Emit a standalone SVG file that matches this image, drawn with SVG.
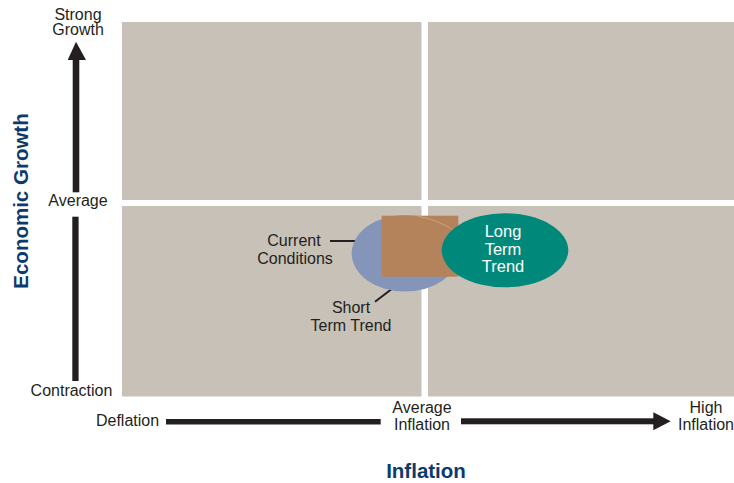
<svg xmlns="http://www.w3.org/2000/svg" width="734" height="483" viewBox="0 0 734 483">
  <style>
    .quad { fill: #c8c1b7; }
    .lbl { font-family: "Liberation Sans", Arial, sans-serif; font-size: 16px; fill: #231f20; text-anchor: middle; }
    .wlbl { font-family: "Liberation Sans", Arial, sans-serif; font-size: 16.5px; fill: #ffffff; text-anchor: middle; }
    .title { font-family: "Liberation Sans", Arial, sans-serif; font-size: 20.5px; font-weight: bold; fill: #0b3a6e; text-anchor: middle; }
    .bar { fill: #231f20; }
    .leader { stroke: #231f20; stroke-width: 2; fill: none; }
  </style>
  <rect width="734" height="483" fill="#ffffff"/>

  <!-- four quadrants of the growth / inflation grid -->
  <g id="grid">
    <rect class="quad" x="122" y="22" width="299.5" height="178"/>
    <rect class="quad" x="428" y="22" width="306" height="178"/>
    <rect class="quad" x="122" y="206" width="299.5" height="190.5"/>
    <rect class="quad" x="428" y="206" width="306" height="190.5"/>
  </g>

  <!-- axes -->
  <g id="connectors">
    <!-- vertical growth axis -->
    <rect class="bar" x="72.7" y="58" width="6.6" height="134.3"/>
    <polygon class="bar" points="76,41.7 86,60 67.7,60"/>
    <rect class="bar" x="72.3" y="216.7" width="6.3" height="164.3"/>
    <!-- horizontal inflation axis -->
    <rect class="bar" x="166" y="419" width="214.7" height="5.5"/>
    <rect class="bar" x="461" y="418.3" width="194" height="6"/>
    <polygon class="bar" points="670.7,421.3 653.3,412.3 653.3,430.3"/>
    <!-- leader lines -->
    <line class="leader" x1="330" y1="241" x2="396.7" y2="241"/>
    <line class="leader" x1="375" y1="301.7" x2="394" y2="287.3"/>
  </g>

  <g id="short-term-trend">
    <ellipse cx="405" cy="253.3" rx="53.3" ry="38.3" fill="#8595b9"/>
  </g>
  <g id="current-conditions">
    <rect x="381.7" y="215.7" width="76.6" height="61" fill="#b5835b"/>
    <path d="M418,216.4 Q440,220 456,232" fill="none" stroke="#ffffff" stroke-opacity="0.3" stroke-width="0.8"/>
  </g>
  <g id="long-term-trend">
    <ellipse cx="505" cy="250.3" rx="63.3" ry="37" fill="#00897a"/>
    <text class="wlbl" x="503" y="237">Long</text>
    <text class="wlbl" x="503" y="255">Term</text>
    <text class="wlbl" x="503" y="272">Trend</text>
  </g>

  <!-- labels -->
  <g id="label-current">
    <text class="lbl" x="294" y="246">Current</text>
    <text class="lbl" x="295" y="264">Conditions</text>
  </g>
  <g id="label-short">
    <text class="lbl" x="351" y="313.3">Short</text>
    <text class="lbl" x="351" y="331">Term Trend</text>
  </g>
  <g id="y-ticks">
    <text class="lbl" x="78" y="19.5">Strong</text>
    <text class="lbl" x="78" y="35">Growth</text>
    <text class="lbl" x="78" y="206">Average</text>
    <text class="lbl" x="71.5" y="396">Contraction</text>
  </g>
  <g id="x-ticks">
    <text class="lbl" x="127.5" y="425.5">Deflation</text>
    <text class="lbl" x="422" y="413.3">Average</text>
    <text class="lbl" x="422" y="430">Inflation</text>
    <text class="lbl" x="706" y="413">High</text>
    <text class="lbl" x="706" y="429.5">Inflation</text>
  </g>
  <g id="axis-titles">
    <text class="title" transform="translate(28,201) rotate(-90)">Economic Growth</text>
    <text class="title" x="426" y="478.3">Inflation</text>
  </g>
</svg>
